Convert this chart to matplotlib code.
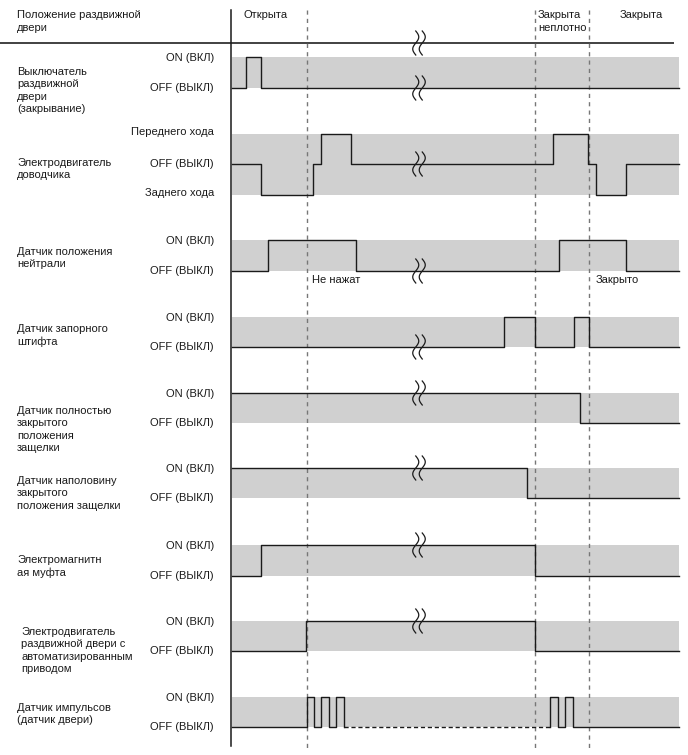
import numpy as np
import matplotlib
matplotlib.use("Agg")
import matplotlib.pyplot as plt

plt.rcParams['font.family'] = ['Liberation Sans', 'DejaVu Sans']

# ---------------- data ----------------
header_label = ["Положение раздвижной", "двери"]
phase_labels = ["Открыта", "Закрыта\nнеплотно", "Закрыта"]
phase_start = [243, 538, 620]            # time where each phase label starts
marker_t = [306.5, 535, 588.5]            # dashed event markers (time)
break_t = 419                             # time-axis break
t_start, t_end = 232, 679

row_labels = [
    ["Выключатель", "раздвижной", "двери", "(закрывание)"],
    ["Электродвигатель", "доводчика"],
    ["Датчик положения", "нейтрали"],
    ["Датчик запорного", "штифта"],
    ["Датчик полностью", "закрытого", "положения", "защелки"],
    ["Датчик наполовину", "закрытого", "положения защелки"],
    ["Электромагнитн", "ая муфта"],
    ["Электродвигатель", "раздвижной двери с", "автоматизированным", "приводом"],
    ["Датчик импульсов", "(датчик двери)"],
]
on_label = "ON (ВКЛ)"
off_label = "OFF (ВЫКЛ)"
fwd_label = "Переднего хода"
rev_label = "Заднего хода"

switch_t = [232, 246, 261, 679]
switch_v = [0, 1, 0]
closer_t = [232, 261, 313, 321, 351, 553, 588, 596, 626, 679]
closer_v = [0, -1, 0, 1, 0, 1, 0, -1, 0]
neutral_t = [232, 268, 356, 559, 626, 679]
neutral_v = [0, 1, 0, 1, 0]
lockpin_t = [232, 504, 535, 574, 588.5, 679]
lockpin_v = [0, 1, 0, 1, 0]
full_t = [232, 580, 679]
full_v = [1, 0]
half_t = [232, 527, 679]
half_v = [1, 0]
clutch_t = [232, 261, 535, 679]
clutch_v = [0, 1, 0]
doormotor_t = [232, 306, 535, 679]
doormotor_v = [0, 1, 0]
pulse_t = [232, 306.5, 314, 321, 329, 336, 344, 550, 558, 565, 573, 679]
pulse_v = [0, 1, 0, 1, 0, 1, 0, 1, 0, 1, 0]
pulse_dashed = (344, 550)

neutral_notes = ["Не нажат", "Закрыто"]
neutral_note_t = [312, 596]

signals = [(switch_t, switch_v), (closer_t, closer_v), (neutral_t, neutral_v),
           (lockpin_t, lockpin_v), (full_t, full_v), (half_t, half_v),
           (clutch_t, clutch_v), (doormotor_t, doormotor_v), (pulse_t, pulse_v)]

# ---------------- layout (pixels) ----------------
W, H = 688, 755
on_y = [57, 134, 240, 317, 393, 468, 545, 621, 697]
off_y = [88, 164, 271, 347, 423, 498, 576, 651, 727]
rev_y = 195
label_y0 = [72, 163, 252, 329, 411, 481, 560, 632, 708]
label_x = [17, 17, 17, 17, 17, 17, 17, 21, 17]
line_step = 12.3
fs = 8
txt = '#1a1a1a'
band_col = '#d0d0d0'

fig = plt.figure(figsize=(W / 100, H / 100), dpi=100)
ax = fig.add_axes([0, 0, 1, 1])
ax.set_xlim(0, W)
ax.set_ylim(H, 0)
ax.axis('off')

# header
for i, s in enumerate(header_label):
    ax.text(17, 15 + i * 13, s, fontsize=fs, color=txt, va='center', ha='left')
for s, x in zip(phase_labels, phase_start):
    for j, part in enumerate(s.split("\n")):
        ax.text(x, 15 + j * 13, part, fontsize=fs, color=txt, va='center', ha='left')
ax.plot([0, 674], [42.7, 42.7], color='#333333', lw=1.3, solid_capstyle='butt')

# vertical axis line and markers
ax.plot([231, 231], [10, 746], color='#1a1a1a', lw=1.1)
for m in marker_t:
    ax.plot([m, m], [10, 750], color='#777777', lw=1.0, ls=(0, (3, 3)))


def level_y(i, v):
    if v == 1:
        return on_y[i]
    if v == -1:
        return rev_y
    return off_y[i]


def break_mark(xc, yc, h=12, a=3.0, gap=6.5):
    yy = np.linspace(yc - h, yc + h, 60)
    for dx in (-gap / 2, gap / 2):
        xx = xc + dx + a * np.sin(np.pi * (yc - yy) / h)
        ax.plot(xx, yy, color='#1a1a1a', lw=0.9, zorder=5)


for i, (t, v) in enumerate(signals):
    top = on_y[i]
    bot = rev_y if i == 1 else off_y[i]
    ax.fill_between([t_start, t_end], top, bot, color=band_col, lw=0, zorder=1)
    ys = [level_y(i, val) for val in v] + [level_y(i, v[-1])]
    if i == 8:
        # split into solid / dashed / solid
        t = np.array(t, dtype=float)
        ys = np.array(ys, dtype=float)
        a_idx = list(t).index(pulse_dashed[0])
        b_idx = list(t).index(pulse_dashed[1])
        ax.plot(t[:a_idx + 1], ys[:a_idx + 1], drawstyle='steps-post', color='#1a1a1a', lw=1.0, zorder=3)
        ax.plot([pulse_dashed[0], pulse_dashed[1]], [off_y[i], off_y[i]], color='#1a1a1a', lw=1.0,
                ls=(0, (3, 2)), zorder=3)
        tb = np.concatenate([[t[b_idx]], t[b_idx:]])
        yb = np.concatenate([[off_y[i]], ys[b_idx:]])
        ax.plot(tb, yb, drawstyle='steps-post', color='#1a1a1a', lw=1.0, zorder=3)
    else:
        ax.plot(t, ys, drawstyle='steps-post', color='#1a1a1a', lw=1.0, zorder=3)
        # break mark at the level the signal has at break_t
        k = np.searchsorted(t, break_t) - 1
        break_mark(break_t, level_y(i, v[k]))

    # level labels
    if i == 1:
        ax.text(214, on_y[i] - 2, fwd_label, fontsize=fs, color=txt, ha='right', va='center')
        ax.text(214, off_y[i], off_label, fontsize=fs, color=txt, ha='right', va='center')
        ax.text(214, rev_y - 2, rev_label, fontsize=fs, color=txt, ha='right', va='center')
    else:
        ax.text(214, on_y[i] + 1, on_label, fontsize=fs, color=txt, ha='right', va='center')
        ax.text(214, off_y[i], off_label, fontsize=fs, color=txt, ha='right', va='center')
    for j, s in enumerate(row_labels[i]):
        ax.text(label_x[i], label_y0[i] + j * line_step, s, fontsize=fs, color=txt,
                ha='left', va='center')

break_mark(break_t, 43)

for s, x in zip(neutral_notes, neutral_note_t):
    ax.text(x, 280, s, fontsize=fs, color=txt, ha='left', va='center')

fig.savefig('out.png', dpi=100)
